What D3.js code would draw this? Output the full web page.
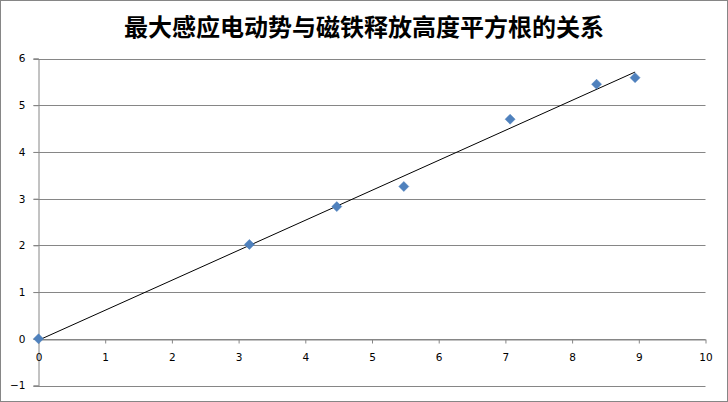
<!DOCTYPE html>
<html>
<head>
<meta charset="utf-8">
<script src="https://d3js.org/d3.v7.min.js"></script>
<style>
body { margin: 0; background: #fff; }
svg { display: block; }
.tick text { font-family: "DejaVu Sans", "Liberation Sans", sans-serif; font-size: 10.5px; fill: #000; }
</style>
</head>
<body>
<div id="chart"></div>
<script>
var width = 728;
var height = 402;

// sqrt of release height vs. maximum induced EMF
var sqrtHeight = [0, 3.162, 4.472, 5.477, 7.071, 8.367, 8.944];
var maxEmf = [0, 2.02, 2.83, 3.26, 4.70, 5.45, 5.59];
var xTicks = [0, 1, 2, 3, 4, 5, 6, 7, 8, 9, 10];
var yTicks = [-1, 0, 1, 2, 3, 4, 5, 6];
var title = "最大感应电动势与磁铁释放高度平方根的关系";

var points = sqrtHeight.map(function (x, i) { return { x: x, y: maxEmf[i] }; });

var svg = d3.select("#chart").append("svg")
  .attr("width", width).attr("height", height);

// chart border
svg.append("rect")
  .attr("x", 0.5).attr("y", 0.5)
  .attr("width", width - 1).attr("height", height - 1)
  .style("fill", "#fff").style("stroke", "#868686");

svg.append("text")
  .attr("x", 364).attr("y", 36)
  .attr("text-anchor", "middle")
  .style("font-family", "'Noto Sans CJK SC', sans-serif")
  .style("font-weight", "bold")
  .style("font-size", "24px")
  .text(title);

var xScale = d3.scaleLinear().domain([0, 10]).range([38.5, 705.5]);
var yScale = d3.scaleLinear().domain([-1, 6]).range([385.5, 58.5]);

// horizontal grid lines
svg.append("g").selectAll("line").data(yTicks).enter().append("line")
  .attr("x1", xScale(0) - 5).attr("x2", xScale(10))
  .attr("y1", function (d) { return Math.round(yScale(d)) + 0.5; })
  .attr("y2", function (d) { return Math.round(yScale(d)) + 0.5; })
  .style("stroke", "#868686");

// y axis
var yAxis = svg.append("g")
  .attr("transform", "translate(" + xScale(0) + ",0)")
  .call(d3.axisLeft(yScale).tickValues(yTicks).tickFormat(d3.format("d")).tickSize(5).tickPadding(8));
yAxis.selectAll("line, path").style("stroke", "#868686");

// x axis sits at y = 0
var xAxis = svg.append("g")
  .attr("transform", "translate(0," + (Math.round(yScale(0)) + 0.5) + ")")
  .call(d3.axisBottom(xScale).tickValues(xTicks).tickFormat(d3.format("d")).tickSize(4).tickSizeOuter(0).tickPadding(10));
xAxis.selectAll("line, path").style("stroke", "#868686");

// linear trendline (least squares)
var mx = d3.mean(points, function (d) { return d.x; });
var my = d3.mean(points, function (d) { return d.y; });
var sxy = d3.sum(points, function (d) { return (d.x - mx) * (d.y - my); });
var sxx = d3.sum(points, function (d) { return (d.x - mx) * (d.x - mx); });
var slope = sxy / sxx;
var intercept = my - slope * mx;
var xMin = d3.min(sqrtHeight), xMax = d3.max(sqrtHeight);

svg.append("line")
  .attr("x1", xScale(xMin)).attr("y1", yScale(intercept + slope * xMin))
  .attr("x2", xScale(xMax)).attr("y2", yScale(intercept + slope * xMax))
  .style("stroke", "#000").style("stroke-width", 1);

// diamond markers
svg.append("g").selectAll("path").data(points).enter().append("path")
  .attr("d", "M0,-5L5,0L0,5L-5,0Z")
  .attr("transform", function (d) { return "translate(" + xScale(d.x) + "," + yScale(d.y) + ")"; })
  .style("fill", "#4f81bd")
  .style("stroke", "#4a7ebb")
  .style("stroke-width", 0.5);
</script>
</body>
</html>
